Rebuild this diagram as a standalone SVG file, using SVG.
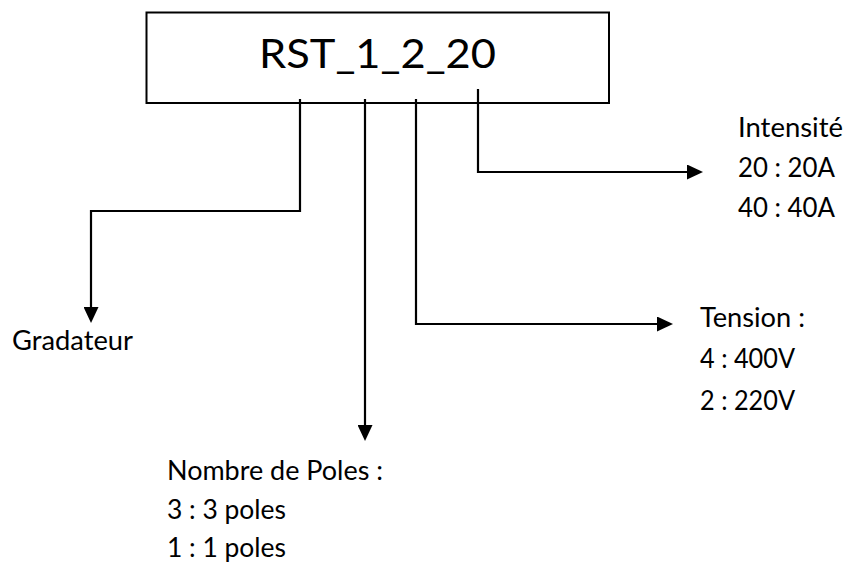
<svg xmlns="http://www.w3.org/2000/svg" width="845" height="567" viewBox="0 0 845 567">
<style>
  .t { font-family: Lato, "Open Sans", "Liberation Sans", sans-serif; font-size: 26px; fill: #000; }
  .title { font-family: Lato, "Open Sans", "Liberation Sans", sans-serif; font-size: 40px; fill: #000; }
  .c { fill: none; stroke: #000; stroke-width: 2.2; marker-end: url(#arr); }
</style>
<defs>
  <marker id="arr" markerUnits="userSpaceOnUse" markerWidth="16" markerHeight="15" refX="6" refY="7.5" orient="auto" viewBox="0 0 16 15">
    <path d="M0,0 L16,7.5 L0,15 z" fill="#000"/>
  </marker>
</defs>
<rect width="845" height="567" fill="#fff"/>
<g id="code">
  <rect x="146.5" y="12.5" width="462.5" height="90.5" fill="#fff" stroke="#000" stroke-width="2"/>
  <text class="title" x="259" y="68" textLength="237" lengthAdjust="spacingAndGlyphs">RST_1_2_20</text>
</g>
<g id="connectors">
  <path class="c" d="M300,99 V211 H91 V313"/>
  <path class="c" d="M365,99 V431"/>
  <path class="c" d="M416,99 V324 H663"/>
  <path class="c" d="M478,89 V172 H693"/>
</g>
<g id="gradateur">
  <text class="t" x="12" y="350" textLength="121" lengthAdjust="spacingAndGlyphs">Gradateur</text>
</g>
<g id="poles">
  <text class="t" x="167" y="480" textLength="216" lengthAdjust="spacingAndGlyphs">Nombre de Poles :</text>
  <text class="t" x="167" y="519" textLength="119" lengthAdjust="spacingAndGlyphs">3 : 3 poles</text>
  <text class="t" x="167" y="557" textLength="119" lengthAdjust="spacingAndGlyphs">1 : 1 poles</text>
</g>
<g id="tension">
  <text class="t" x="700" y="327" textLength="105" lengthAdjust="spacingAndGlyphs">Tension :</text>
  <text class="t" x="700" y="368" textLength="95" lengthAdjust="spacingAndGlyphs">4 : 400V</text>
  <text class="t" x="700" y="410" textLength="95" lengthAdjust="spacingAndGlyphs">2 : 220V</text>
</g>
<g id="intensite">
  <text class="t" x="738" y="137" textLength="105" lengthAdjust="spacingAndGlyphs">Intensité</text>
  <text class="t" x="738" y="177" textLength="97" lengthAdjust="spacingAndGlyphs">20 : 20A</text>
  <text class="t" x="738" y="217" textLength="97" lengthAdjust="spacingAndGlyphs">40 : 40A</text>
</g>
</svg>
